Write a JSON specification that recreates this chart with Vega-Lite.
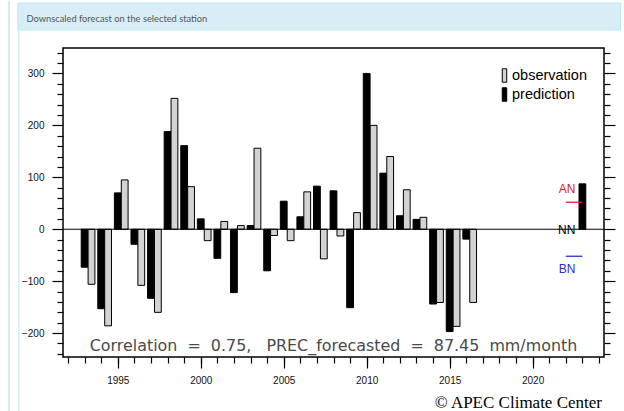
{
  "$schema": "https://vega.github.io/schema/vega-lite/v6.json",
  "background": "white",
  "autosize": {"type": "none"},
  "width": 541,
  "height": 309,
  "padding": {"left": 63, "top": 48, "right": 20, "bottom": 54},
  "view": {"stroke": "black", "strokeWidth": 1.5},
  "config": {
    "font": "Liberation Sans",
    "axis": {"domain": false, "grid": false, "tickColor": "black", "tickWidth": 1.2, "labelFont": "Liberation Sans", "labelFontSize": 10, "labelColor": "#111", "labelOverlap": false}
  },
  "data": {"values": [
    {"year": 1993, "series": "prediction", "value": -73},
    {"year": 1994, "series": "prediction", "value": -153},
    {"year": 1995, "series": "prediction", "value": 70},
    {"year": 1996, "series": "prediction", "value": -29},
    {"year": 1997, "series": "prediction", "value": -133},
    {"year": 1998, "series": "prediction", "value": 188},
    {"year": 1999, "series": "prediction", "value": 161},
    {"year": 2000, "series": "prediction", "value": 20},
    {"year": 2001, "series": "prediction", "value": -56},
    {"year": 2002, "series": "prediction", "value": -122},
    {"year": 2003, "series": "prediction", "value": 7},
    {"year": 2004, "series": "prediction", "value": -80},
    {"year": 2005, "series": "prediction", "value": 54},
    {"year": 2006, "series": "prediction", "value": 24},
    {"year": 2007, "series": "prediction", "value": 83},
    {"year": 2008, "series": "prediction", "value": 74},
    {"year": 2009, "series": "prediction", "value": -151},
    {"year": 2010, "series": "prediction", "value": 300},
    {"year": 2011, "series": "prediction", "value": 108},
    {"year": 2012, "series": "prediction", "value": 26},
    {"year": 2013, "series": "prediction", "value": 19},
    {"year": 2014, "series": "prediction", "value": -144},
    {"year": 2015, "series": "prediction", "value": -197},
    {"year": 2016, "series": "prediction", "value": -19},
    {"year": 2023, "series": "prediction", "value": 87.45},
    {"year": 1993, "series": "observation", "value": -106},
    {"year": 1994, "series": "observation", "value": -186},
    {"year": 1995, "series": "observation", "value": 95},
    {"year": 1996, "series": "observation", "value": -108},
    {"year": 1997, "series": "observation", "value": -160},
    {"year": 1998, "series": "observation", "value": 252},
    {"year": 1999, "series": "observation", "value": 82},
    {"year": 2000, "series": "observation", "value": -22},
    {"year": 2001, "series": "observation", "value": 15},
    {"year": 2002, "series": "observation", "value": 7},
    {"year": 2003, "series": "observation", "value": 156},
    {"year": 2004, "series": "observation", "value": -12},
    {"year": 2005, "series": "observation", "value": -22},
    {"year": 2006, "series": "observation", "value": 72},
    {"year": 2007, "series": "observation", "value": -57},
    {"year": 2008, "series": "observation", "value": -13},
    {"year": 2009, "series": "observation", "value": 32},
    {"year": 2010, "series": "observation", "value": 200},
    {"year": 2011, "series": "observation", "value": 140},
    {"year": 2012, "series": "observation", "value": 76},
    {"year": 2013, "series": "observation", "value": 23},
    {"year": 2014, "series": "observation", "value": -141},
    {"year": 2015, "series": "observation", "value": -187},
    {"year": 2016, "series": "observation", "value": -141}
  ]},
  "resolve": {"axis": {"x": "independent", "y": "independent"}},
  "layer": [
    {
      "transform": [{"filter": "datum.series === 'prediction'"}],
      "mark": {"type": "bar", "width": 6.8, "stroke": "black", "strokeWidth": 1},
      "encoding": {
        "x": {"field": "year", "type": "quantitative",
          "scale": {"domain": [1992, 2024], "nice": false, "zero": false},
          "axis": {
            "orient": "bottom",
            "values": [1995, 2000, 2005, 2010, 2015, 2020],
            "labelExpr": "'' + datum.value",
            "tickSize": 11,
            "labelPadding": 7.5,
            "title": null
          }
        },
        "y": {"field": "value", "type": "quantitative",
          "scale": {"domain": [-246, 349], "nice": false},
          "axis": {
            "orient": "left",
            "values": [-240,-220,-200,-180,-160,-140,-120,-100,-80,-60,-40,-20,0,20,40,60,80,100,120,140,160,180,200,220,240,260,280,300,320,340],
            "labelExpr": "datum.value % 100 === 0 ? datum.label : ''",
            "tickSize": {"condition": {"test": "datum.value % 100 === 0", "value": 11}, "value": 6},
            "labelPadding": 8,
            "title": null
          }
        },
        "color": {"field": "series", "type": "nominal",
          "scale": {"domain": ["observation", "prediction"], "range": ["#d3d3d3", "#000000"]},
          "legend": {"orient": "none", "legendX": 434, "legendY": 20, "title": null, "direction": "vertical",
            "symbolType": "M-0.333,-1H0.333V1H-0.333Z", "symbolSize": 182, "symbolStrokeColor": "black", "symbolStrokeWidth": 1,
            "labelFont": "Liberation Sans", "labelFontSize": 14.5, "labelColor": "black", "labelOffset": 0, "rowPadding": 0, "padding": 0, "labelLimit": 200}
        }
      }
    },
    {
      "transform": [{"filter": "datum.series === 'observation'"}],
      "mark": {"type": "bar", "width": 6.8, "xOffset": 6.9, "stroke": "black", "strokeWidth": 1},
      "encoding": {
        "x": {"field": "year", "type": "quantitative",
          "axis": {
            "orient": "bottom",
            "values": [1992,1993,1994,1995,1996,1997,1998,1999,2000,2001,2002,2003,2004,2005,2006,2007,2008,2009,2010,2011,2012,2013,2014,2015,2016,2017,2018,2019,2020,2021,2022,2023,2024],
            "labels": false,
            "tickSize": 6,
            "title": null
          }
        },
        "y": {"field": "value", "type": "quantitative",
          "axis": {
            "orient": "right",
            "values": [-240,-220,-200,-180,-160,-140,-120,-100,-80,-60,-40,-20,0,20,40,60,80,100,120,140,160,180,200,220,240,260,280,300,320,340],
            "labels": false,
            "tickSize": {"condition": {"test": "datum.value % 100 === 0", "value": 11}, "value": 6},
            "title": null
          }
        },
        "color": {"field": "series", "type": "nominal"}
      }
    },
    {
      "data": {"values": [{}]},
      "mark": {"type": "rect", "fill": "#d9edf7", "stroke": "#bce8f1", "strokeWidth": 1, "clip": false},
      "encoding": {
        "x": {"datum": 1988.98, "type": "quantitative", "axis": null},
        "x2": {"datum": 2025.3},
        "y": {"datum": 435.6, "type": "quantitative", "axis": null},
        "y2": {"datum": 383.7}
      }
    },
    {
      "data": {"values": [{}]},
      "mark": {"type": "text", "font": "Lato", "fontSize": 9.3, "color": "#555", "align": "left", "baseline": "alphabetic", "clip": false},
      "encoding": {
        "x": {"datum": 1989.5, "type": "quantitative", "axis": null},
        "y": {"datum": 399.6, "type": "quantitative", "axis": null},
        "text": {"value": "Downscaled forecast on the selected station"}
      }
    },
    {
      "data": {"values": [{}]},
      "mark": {"type": "rule", "color": "#bce8f1", "strokeWidth": 1, "clip": false},
      "encoding": {
        "x": {"datum": 1989.04, "type": "quantitative", "axis": null},
        "y": {"datum": 383.7, "type": "quantitative", "axis": null},
        "y2": {"datum": -360}
      }
    },
    {
      "data": {"values": [{}]},
      "mark": {"type": "rule", "color": "#d0e0ea", "strokeWidth": 1.5, "clip": false},
      "encoding": {
        "x": {"datum": 1988.45, "type": "quantitative", "axis": null},
        "y": {"datum": 440, "type": "quantitative", "axis": null},
        "y2": {"datum": -360}
      }
    },
    {
      "data": {"values": [{}]},
      "mark": {"type": "rule", "color": "black", "strokeWidth": 1},
      "encoding": {"y": {"datum": 0, "type": "quantitative", "axis": null}}
    },
    {
      "data": {"values": [{}]},
      "mark": {"type": "text", "font": "DejaVu Sans", "fontSize": 15.9, "fontWeight": "normal", "color": "#4a4a4a", "align": "center", "baseline": "middle"},
      "encoding": {
        "x": {"datum": 2008, "type": "quantitative", "axis": null},
        "y": {"datum": -224, "type": "quantitative", "axis": null},
        "text": {"value": "Correlation\u00a0\u00a0=\u00a0\u00a00.75,\u00a0\u00a0\u00a0PREC_forecasted\u00a0\u00a0=\u00a0\u00a087.45\u00a0\u00a0mm/month"}
      }
    },
    {
      "data": {"values": [{}]},
      "mark": {"type": "text", "font": "Liberation Serif", "fontSize": 17, "color": "black", "align": "right", "baseline": "middle", "clip": false},
      "encoding": {
        "x": {"datum": 2024.18, "type": "quantitative", "axis": null},
        "y": {"datum": -335.5, "type": "quantitative", "axis": null},
        "text": {"value": "© APEC Climate Center"}
      }
    },
    {
      "data": {"values": [{}]},
      "mark": {"type": "text", "font": "Liberation Sans", "fontSize": 12, "color": "#e0202a", "align": "center", "baseline": "middle"},
      "encoding": {
        "x": {"datum": 2022.08, "type": "quantitative", "axis": null},
        "y": {"datum": 78, "type": "quantitative", "axis": null},
        "text": {"value": "AN"}
      }
    },
    {
      "data": {"values": [{}]},
      "mark": {"type": "text", "font": "Liberation Sans", "fontSize": 12, "color": "black", "align": "center", "baseline": "middle"},
      "encoding": {
        "x": {"datum": 2022.05, "type": "quantitative", "axis": null},
        "y": {"datum": -1, "type": "quantitative", "axis": null},
        "text": {"value": "NN"}
      }
    },
    {
      "data": {"values": [{}]},
      "mark": {"type": "text", "font": "Liberation Sans", "fontSize": 12, "color": "#2a2ad8", "align": "center", "baseline": "middle"},
      "encoding": {
        "x": {"datum": 2022.08, "type": "quantitative", "axis": null},
        "y": {"datum": -77, "type": "quantitative", "axis": null},
        "text": {"value": "BN"}
      }
    },
    {
      "data": {"values": [{}]},
      "mark": {"type": "rule", "color": "#e0202a", "strokeWidth": 1.3},
      "encoding": {
        "x": {"datum": 2022, "type": "quantitative", "axis": null},
        "x2": {"datum": 2023},
        "y": {"datum": 52, "type": "quantitative", "axis": null}
      }
    },
    {
      "data": {"values": [{}]},
      "mark": {"type": "rule", "color": "#2a2ad8", "strokeWidth": 1.3},
      "encoding": {
        "x": {"datum": 2022, "type": "quantitative", "axis": null},
        "x2": {"datum": 2023},
        "y": {"datum": -52, "type": "quantitative", "axis": null}
      }
    }
  ]
}
